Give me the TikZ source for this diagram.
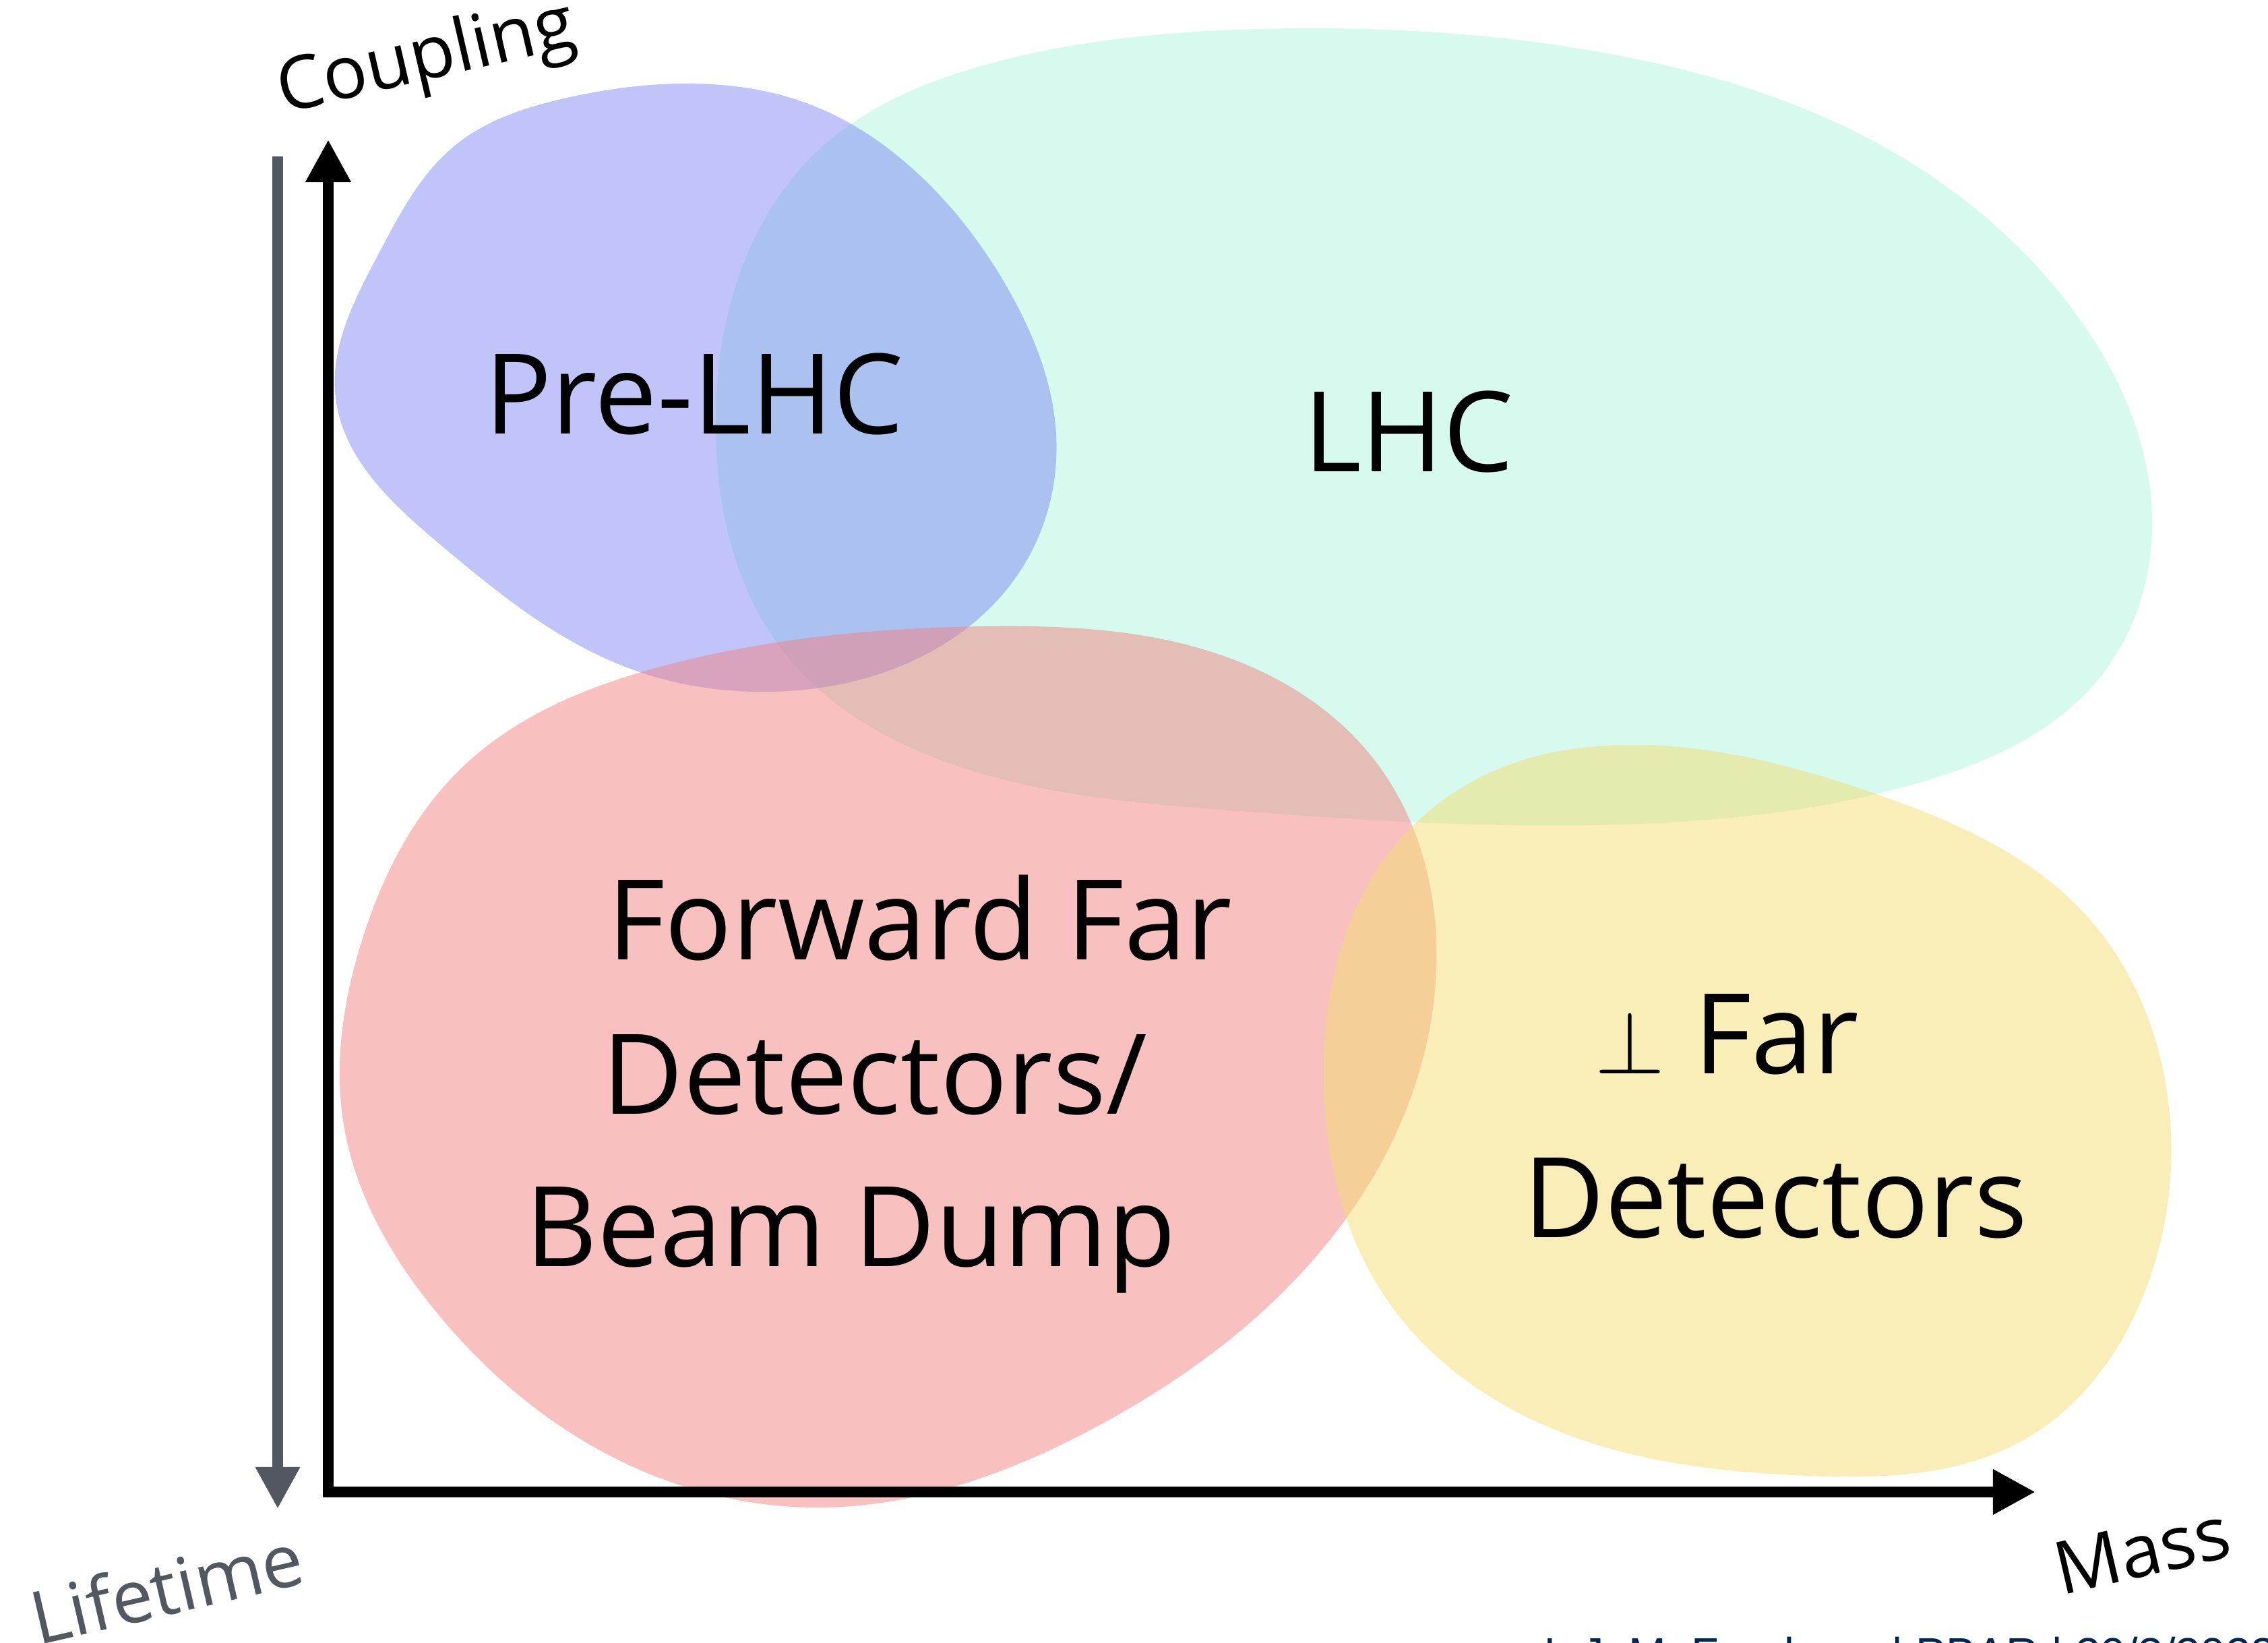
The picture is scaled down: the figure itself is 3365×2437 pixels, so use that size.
\RequirePackage{fix-cm}
\documentclass[tikz,border=0pt]{standalone}
\usepackage{fontspec}
\setmainfont{Open Sans}
\newfontfamily\footfont{Liberation Sans}
\usetikzlibrary{arrows.meta,hobby}

\definecolor{prelhc}{RGB}{129,137,243}
\definecolor{lhc}{RGB}{175,245,221}
\definecolor{fwd}{RGB}{243,129,129}
\definecolor{perpfar}{RGB}{243,221,111}
\definecolor{lifegray}{RGB}{83,87,96}
\definecolor{footblue}{RGB}{0,38,84}

\begin{document}
\begin{tikzpicture}[x=0.01cm,y=-0.01cm,
    blob/.style={fill opacity=0.5, use Hobby shortcut, closed=true},
    bigtext/.style={font=\fontsize{47}{56}\selectfont, anchor=base west, inner sep=0},
    axtext/.style={font=\fontsize{31}{37}\selectfont, rotate=13, inner sep=0},
    axis/.style={line width=0.16cm, {Triangle[length=6.3mm,width=6.3mm]}-{Triangle[length=6.3mm,width=6.3mm]}}]

    \useasboundingbox (0,0) rectangle (3365,2437);

    %regions
    \fill[blob, lhc] (1062,622) .. (1105,386) .. (1223,215) .. (1459,97) .. (1867,43) .. (2361,75) .. (2790,215) .. (3069,451) .. (3193,773) .. (3112,1009) .. (2854,1159) .. (2404,1223) .. (1824,1202) .. (1395,1127) .. (1170,976);
    \fill[blob, prelhc] (498,590) .. (562,376) .. (676,215) .. (837,146) .. (1009,124) .. (1202,155) .. (1373,268) .. (1502,440) .. (1567,644) .. (1513,848) .. (1363,976) .. (1148,1026) .. (930,990) .. (650,805);
    \fill[blob, fwd] (1459,929) .. (1824,976) .. (2039,1127) .. (2131,1395) .. (2092,1631) .. (1931,1888) .. (1631,2114) .. (1212,2236) .. (901,2157) .. (644,1942) .. (511,1674) .. (537,1395) .. (687,1137) .. (987,987);
    \fill[blob, perpfar] (2404,1105) .. (2790,1180) .. (3090,1352) .. (3219,1652) .. (3176,1931) .. (3004,2135) .. (2683,2189) .. (2318,2125) .. (2060,1931) .. (1964,1588) .. (2060,1266) .. (2232,1137);

    %labels
    \node[bigtext, anchor=base] (pre) at (1030,644) {Pre-LHC};
    \node[bigtext, anchor=base] (lhcl) at (2090,700) {LHC};
    \node[bigtext] (fwdA) at (901,1423) {Forward Far};
    \node[bigtext] (fwdB) at (893,1652) {Detectors/};
    \node[bigtext] (fwdC) at (779,1878) {Beam Dump};
    \node[bigtext] (perpA) at (2366,1592) {{\fontsize{38}{40}\selectfont$\perp$} Far};
    \node[bigtext] (perpB) at (2260,1835) {Detectors};

    %axes
    \coordinate (O) at (487,2213);
    \coordinate (Y) at (487,207);
    \coordinate (X) at (3020,2213);
    \draw[axis] (Y) -- (O) -- (X);

    \coordinate (T) at (412,232);
    \coordinate (B) at (412,2238);
    \draw[lifegray, line width=0.16cm, -{Triangle[length=6.2mm,width=6.2mm]}] (T) -- (B);

    \node[axtext] (coup) at (633,90) {Coupling};
    \node[axtext, text=lifegray] (life) at (247,2354) {Lifetime};
    \node[axtext] (mass) at (3178,2300) {Mass};

    \node[font=\footfont\fontsize{19}{22}\selectfont, text=footblue, anchor=base west, inner sep=0] (foot) at (2290,2476) {I. J. M. Frankova | PBAR | 20/3/2023};

\end{tikzpicture}
\end{document}
